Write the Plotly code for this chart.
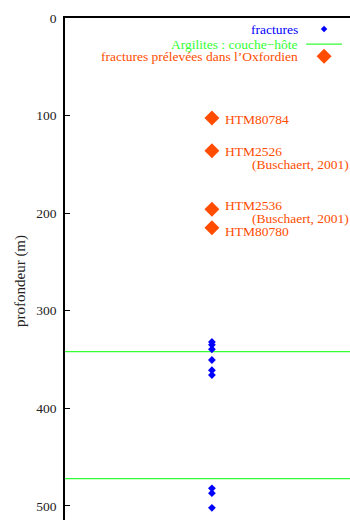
import plotly.graph_objects as go

# Depths (m) of the fractures observed along the borehole
fracture_depths = [332, 335, 339.5, 350.5, 361, 366, 482, 487, 502]

# Oxfordian samples: name, depth (m) and reference
sample_names = ["HTM80784", "HTM2526", "HTM2536", "HTM80780"]
sample_depths = [102.5, 136, 196, 215]
sample_refs = ["", "(Buschaert, 2001)", "(Buschaert, 2001)", ""]

# Host layer (argillites) limits, m
host_limits = [342, 472]

y_ticks = [0, 100, 200, 300, 400, 500]

FONT = "Liberation Serif, Times New Roman, serif"
BLUE = "#0000ff"
GREEN = "#33ff33"
ORANGE = "#ff4c00"

X_POS = 1.0          # all marks drawn on a single vertical
X_RANGE = [0, 1.94]
Y_RANGE = [514.5, 0]

fig = go.Figure()

# host-layer limits
for d in host_limits:
    fig.add_trace(go.Scatter(
        x=X_RANGE, y=[d, d], mode="lines",
        line=dict(color=GREEN, width=1.2), showlegend=False, hoverinfo="skip"))

fig.add_trace(go.Scatter(
    x=[X_POS] * len(fracture_depths), y=fracture_depths, mode="markers",
    marker=dict(symbol="diamond", size=6, color=BLUE), showlegend=False))

fig.add_trace(go.Scatter(
    x=[X_POS] * len(sample_depths), y=sample_depths, mode="markers",
    marker=dict(symbol="diamond", size=11.5, color=ORANGE), showlegend=False))

# sample labels
name_shift = [-1, -1, 4, -4]
for name, d, ref, s in zip(sample_names, sample_depths, sample_refs, name_shift):
    fig.add_annotation(x=X_POS, y=d, text=name, showarrow=False,
                       xanchor="left", xshift=11, yshift=s,
                       font=dict(family=FONT, size=13.5, color=ORANGE))
    if ref:
        fig.add_annotation(x=X_POS, y=d, text=ref, showarrow=False,
                           xanchor="left", xshift=38, yshift=s - 13,
                           font=dict(family=FONT, size=13.5, color=ORANGE))

# key (text on the left, sample on the right), on a hidden [0,1] frame
key_labels = ["fractures", "Argilites : couche\u2212hôte",
              "fractures prélevées dans l\u2019Oxfordien"]
key_colors = [BLUE, GREEN, ORANGE]
key_y = [0.978, 0.948, 0.924]
for lab, col, ky in zip(key_labels, key_colors, key_y):
    fig.add_annotation(xref="x2", yref="y2", x=0.825, y=ky, text=lab,
                       showarrow=False, xanchor="right",
                       font=dict(family=FONT, size=13.5, color=col))
fig.add_trace(go.Scatter(x=[0.909], y=[key_y[0]], xaxis="x2", yaxis="y2",
                         mode="markers", showlegend=False, hoverinfo="skip",
                         marker=dict(symbol="diamond", size=5, color=BLUE)))
fig.add_trace(go.Scatter(x=[0.846, 0.972], y=[key_y[1]] * 2, xaxis="x2",
                         yaxis="y2", mode="lines", showlegend=False,
                         hoverinfo="skip", line=dict(color=GREEN, width=1.2)))
fig.add_trace(go.Scatter(x=[0.909], y=[key_y[2]], xaxis="x2", yaxis="y2",
                         mode="markers", showlegend=False, hoverinfo="skip",
                         marker=dict(symbol="diamond", size=11.5, color=ORANGE)))

fig.add_annotation(xref="paper", yref="paper", x=-0.158, y=0.476,
                   xanchor="center", yanchor="middle",
                   text="profondeur (m)", textangle=-90, showarrow=False,
                   font=dict(family=FONT, size=15, color="#222"))

fig.update_layout(
    width=350, height=520,
    margin=dict(l=65, r=0, t=18, b=0),
    paper_bgcolor="white", plot_bgcolor="rgba(0,0,0,0)",
    font=dict(family=FONT, size=13.5, color="#222"),
    xaxis=dict(range=X_RANGE, side="top", showline=True, linecolor="black",
               linewidth=1.5, showticklabels=False, ticks="", showgrid=False,
               zeroline=False, mirror=False),
    yaxis=dict(range=Y_RANGE, tickvals=y_ticks, ticks="inside", ticklen=5,
               tickcolor="black", showline=True, linecolor="black",
               linewidth=1.5, showgrid=False, zeroline=False,
               ticklabelstandoff=4),
    xaxis2=dict(range=[0, 1], domain=[0, 1], anchor="y2", visible=False),
    yaxis2=dict(range=[0, 1], domain=[0, 1], anchor="x2", visible=False),
)

fig.write_html("out.html")
